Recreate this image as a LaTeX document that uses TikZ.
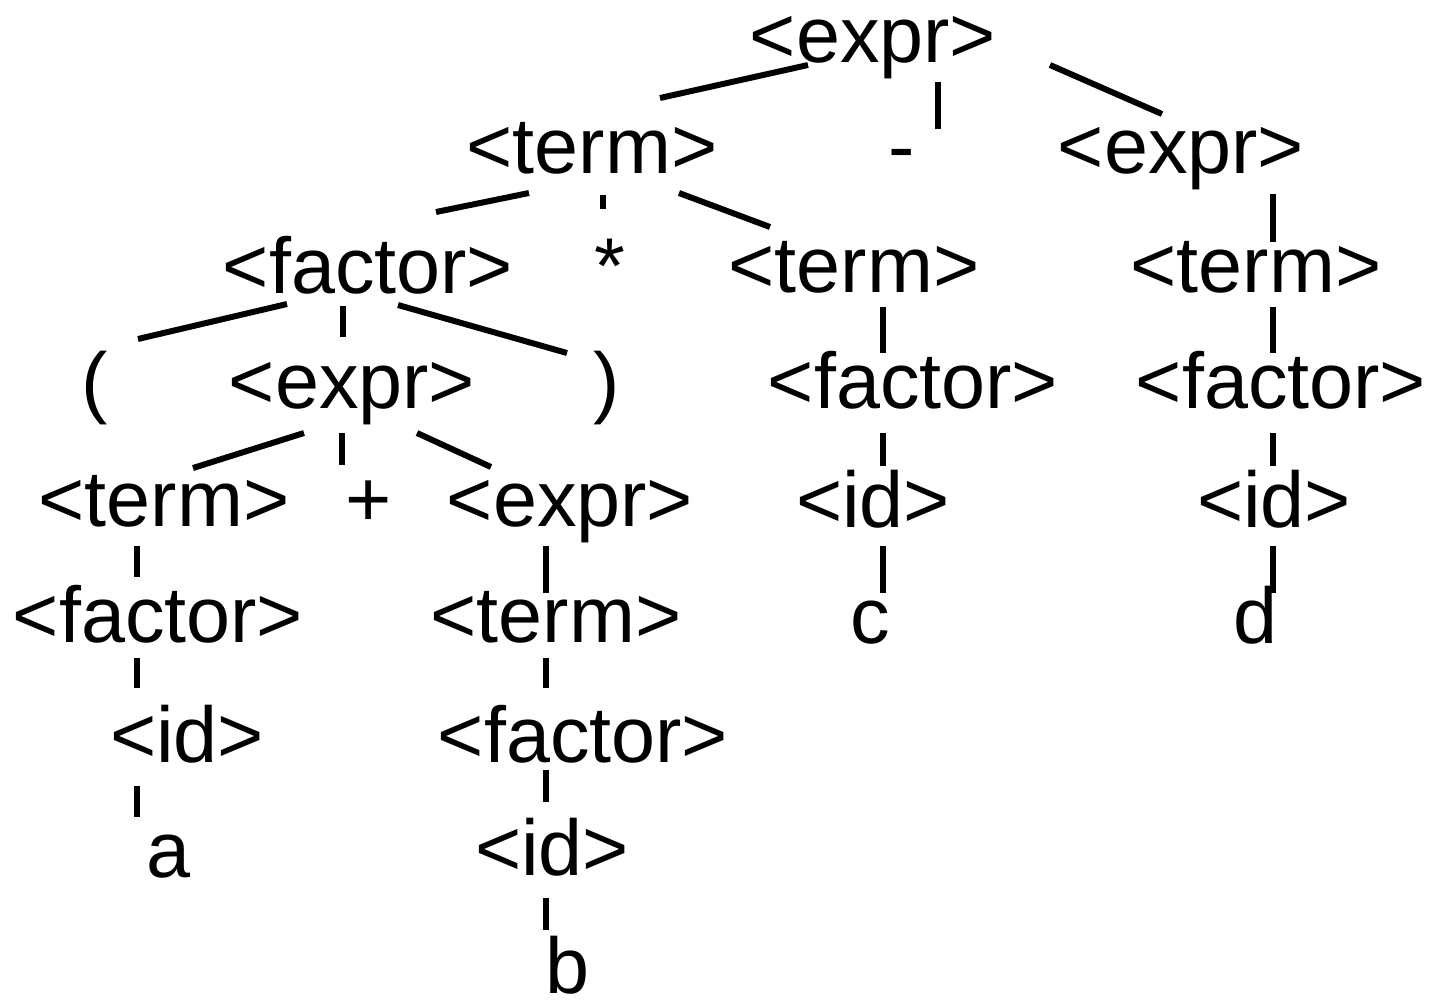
\documentclass[tikz,border=0pt]{standalone}
\usepackage{fontspec}
\setmainfont{Liberation Sans}
\usetikzlibrary{calc}
\tikzset{
	sym/.style = {anchor = base, inner sep = 0pt, font = \fontsize{22.5}{27}\selectfont},
	branch/.style = {line width = 1.7pt}
}
\begin{document}
\begin{tikzpicture}[x = 0.01cm, y = -0.01cm]
		\useasboundingbox (0,0) rectangle (1438,1005);
		% rows of the parse tree
		\node[sym] (e1) at (873,62) {<expr>};
		\node[sym] (t2) at (592,173) {<term>};
		\node[sym] (m2) at (902,173) {-};
		\node[sym] (e2) at (1181,173) {<expr>};
		\node[sym] (f3) at (368,293) {<factor>};
		\node[sym] (s3) at (610,293) {*};
		\node[sym] (t3) at (854,292) {<term>};
		\node[sym] (t3r) at (1256,292) {<term>};
		\node[sym] (lp4) at (95,408) {(};
		\node[sym] (e4) at (352,408) {<expr>};
		\node[sym] (rp4) at (607,408) {)};
		\node[sym] (f4) at (913,408) {<factor>};
		\node[sym] (f4r) at (1281,408) {<factor>};
		\node[sym] (t5) at (164,526) {<term>};
		\node[sym] (p5) at (369,526) {+};
		\node[sym] (e5) at (570,526) {<expr>};
		\node[sym] (i5) at (873,527) {<id>};
		\node[sym] (i5r) at (1274,527) {<id>};
		\node[sym] (f6) at (158,642) {<factor>};
		\node[sym] (t6) at (556,642) {<term>};
		\node[sym] (c6) at (870,643) {c};
		\node[sym] (d6) at (1255,643) {d};
		\node[sym] (i7) at (187,762) {<id>};
		\node[sym] (f7) at (583,762) {<factor>};
		\node[sym] (a8) at (169,877) {a};
		\node[sym] (i8) at (552,875) {<id>};
		\node[sym] (b9) at (568,993) {b};
		% branches
		\draw[branch] ($(e1.base)+(-65,3)$) -- ($(t2.base)+(68,-75)$);
		\draw[branch] ($(e1.base)+(65,20)$) -- ($(m2.base)+(36,-44)$);
		\draw[branch] ($(e1.base)+(177,3)$) -- ($(e2.base)+(-19,-59)$);
		\draw[branch] ($(t2.base)+(-63,20)$) -- ($(f3.base)+(68,-81)$);
		\draw[branch] ($(t2.base)+(11,22)$) -- ($(s3.base)+(-7,-84)$);
		\draw[branch] ($(t2.base)+(87,20)$) -- ($(t3.base)+(-84,-65)$);
		\draw[branch] ($(e2.base)+(92,21)$) -- ($(t3r.base)+(17,-50)$);
		\draw[branch] ($(f3.base)+(-81,11)$) -- ($(lp4.base)+(43,-69)$);
		\draw[branch] ($(f3.base)+(-25,13)$) -- ($(e4.base)+(-9,-71)$);
		\draw[branch] ($(f3.base)+(30,12)$) -- ($(rp4.base)+(-40,-55)$);
		\draw[branch] ($(t3.base)+(29,15)$) -- ($(f4.base)+(-30,-55)$);
		\draw[branch] ($(t3r.base)+(17,15)$) -- ($(f4r.base)+(-8,-55)$);
		\draw[branch] ($(e4.base)+(-48,25)$) -- ($(t5.base)+(29,-58)$);
		\draw[branch] ($(e4.base)+(-10,25)$) -- ($(p5.base)+(-27,-61)$);
		\draw[branch] ($(e4.base)+(65,25)$) -- ($(e5.base)+(-79,-59)$);
		\draw[branch] ($(f4.base)+(-30,25)$) -- ($(i5.base)+(10,-61)$);
		\draw[branch] ($(f4r.base)+(-8,25)$) -- ($(i5r.base)+(-1,-61)$);
		\draw[branch] ($(t5.base)+(-27,20)$) -- ($(f6.base)+(-21,-65)$);
		\draw[branch] ($(e5.base)+(-24,20)$) -- ($(t6.base)+(-10,-49)$);
		\draw[branch] ($(i5.base)+(10,19)$) -- ($(c6.base)+(13,-50)$);
		\draw[branch] ($(i5r.base)+(-1,19)$) -- ($(d6.base)+(18,-50)$);
		\draw[branch] ($(f6.base)+(-21,16)$) -- ($(i7.base)+(-50,-74)$);
		\draw[branch] ($(t6.base)+(-10,16)$) -- ($(f7.base)+(-37,-74)$);
		\draw[branch] ($(i7.base)+(-50,24)$) -- ($(a8.base)+(-32,-60)$);
		\draw[branch] ($(f7.base)+(-37,8)$) -- ($(i8.base)+(-6,-73)$);
		\draw[branch] ($(i8.base)+(-6,23)$) -- ($(b9.base)+(-22,-63)$);
	\end{tikzpicture}
\end{document}
